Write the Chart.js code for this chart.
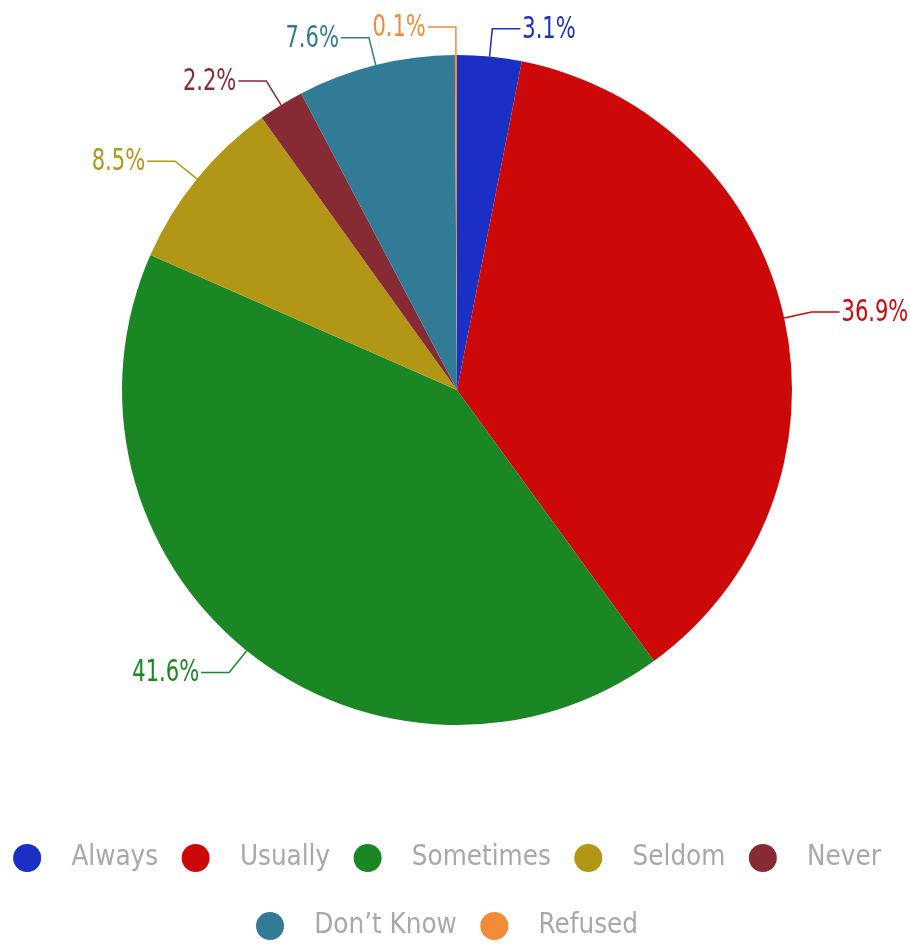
<!DOCTYPE html>
<html>
<head>
<meta charset="utf-8">
<script src="https://cdn.jsdelivr.net/npm/chart.js@4/dist/chart.umd.min.js"></script>
<style>
  html, body { margin: 0; padding: 0; background: #fff; overflow: hidden; }
  #wrap { width: 910px; height: 944px; position: relative; left: 2px; }
</style>
</head>
<body>
<div id="wrap"><canvas id="pieChart"></canvas></div>
<script>
// ===== DATA =====
const categories = ["Always", "Usually", "Sometimes", "Seldom", "Never", "Don’t Know", "Refused"];
const shares = [3.1, 36.9, 41.6, 8.5, 2.2, 7.6, 0.1];
const sliceColors = ["#1a2fc4", "#cc0808", "#1b8624", "#b29717", "#862a33", "#317b96", "#f28b38"];

const FONT = "'DejaVu Sans Condensed', 'Liberation Sans Narrow', sans-serif";

// ===== LEADER LINE LABELS =====
const leaderLabels = {
    id: "leaderLabels",
    afterDatasetsDraw(chart) {
        const ctx = chart.ctx;
        const arcs = chart.getDatasetMeta(0).data;
        ctx.save();
        ctx.font = "30px " + FONT;
        ctx.textBaseline = "middle";
        ctx.lineWidth = 1.5;
        arcs.forEach((arc, i) => {
            const p = arc.getProps(["x", "y", "startAngle", "endAngle", "outerRadius"], true);
            const mid = (p.startAngle + p.endAngle) / 2;
            const cos = Math.cos(mid), sin = Math.sin(mid);
            const x0 = p.x + p.outerRadius * cos;
            const y0 = p.y + p.outerRadius * sin;
            const x1 = p.x + (p.outerRadius + 28) * cos;
            const y1 = p.y + (p.outerRadius + 28) * sin;
            const right = cos >= 0;
            const x2 = x1 + (right ? 28 : -28);
            ctx.strokeStyle = sliceColors[i];
            ctx.beginPath();
            ctx.moveTo(x0, y0);
            ctx.lineTo(x1, y1);
            ctx.lineTo(x2, y1);
            ctx.stroke();
            // narrow the text a bit, the source font is a condensed one
            ctx.save();
            ctx.translate(x2 + (right ? 2 : -2), y1 + 1);
            ctx.scale(0.78, 1);
            ctx.fillStyle = sliceColors[i];
            ctx.textAlign = right ? "left" : "right";
            ctx.fillText(shares[i].toFixed(1) + "%", 0, 0);
            ctx.restore();
        });
        ctx.restore();
    }
};

// ===== ROUND LEGEND MARKERS =====
// legend boxes are transparent, dots are drawn on the legend's own hitboxes
const legendDots = {
    id: "legendDots",
    afterDraw(chart) {
        const legend = chart.legend;
        if (!legend || !legend.legendHitBoxes) return;
        const ctx = chart.ctx;
        ctx.save();
        legend.legendHitBoxes.forEach((box, i) => {
            ctx.fillStyle = sliceColors[legend.legendItems[i].index];
            ctx.beginPath();
            ctx.arc(box.left - 3, box.top + 13.75, 14, 0, Math.PI * 2);
            ctx.fill();
        });
        ctx.restore();
    }
};

// ===== CREATE CHART =====
const ctx = document.getElementById("pieChart").getContext("2d");

const pieChart = new Chart(ctx, {
    type: "pie",
    data: {
        labels: categories,
        datasets: [{
            data: shares,
            backgroundColor: sliceColors,
            borderWidth: 0
        }]
    },
    options: {
        responsive: true,
        maintainAspectRatio: false,
        animation: false,
        layout: {
            padding: { top: 55, bottom: -5.75, left: -36, right: -33 }
        },
        plugins: {
            tooltip: { enabled: false },
            legend: {
                position: "bottom",
                title: {
                    display: true,
                    text: "",
                    font: { size: 10, lineHeight: 1 },
                    padding: { top: 0, bottom: 68.75 }
                },
                labels: {
                    boxWidth: 27.5,
                    boxHeight: 27.5,
                    padding: 40.5,
                    color: "#a8a8a8",
                    font: { family: FONT, size: 27.5 },
                    generateLabels: (chart) => categories.map((name, i) => ({
                        text: name,
                        fillStyle: "rgba(0,0,0,0)",
                        strokeStyle: "rgba(0,0,0,0)",
                        lineWidth: 0,
                        fontColor: "#a8a8a8",
                        hidden: false,
                        index: i
                    }))
                }
            }
        }
    },
    plugins: [leaderLabels, legendDots]
});
</script>
</body>
</html>
